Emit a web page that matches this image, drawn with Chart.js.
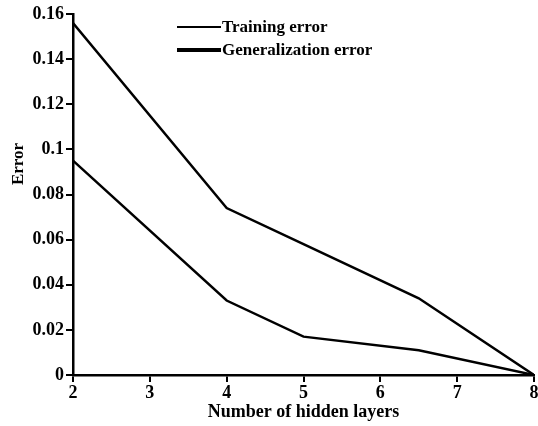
<!DOCTYPE html>
<html>
<head>
<meta charset="utf-8">
<script src="https://cdn.jsdelivr.net/npm/chart.js@4"></script>
<style>
  html, body { margin: 0; padding: 0; background: #fff; }
  #wrap { width: 538px; height: 426px; }
</style>
</head>
<body>
<div id="wrap"><canvas id="myChart" width="538" height="426"></canvas></div>
<script>
let layers = [2, 4, 5, 6.5, 8];
let trainingError = [0.095, 0.033, 0.017, 0.011, 0];
let generalizationError = [0.156, 0.074, 0.058, 0.034, 0];
let legendWidths = [2, 4];
let serif = '"Liberation Serif", "DejaVu Serif", serif';

let toPoints = (ys) => ys.map((y, i) => ({ x: layers[i], y: y }));

// legend and y title drawn inside the plot like the original figure
let inlineLegend = {
  id: 'inlineLegend',
  afterDraw(chart) {
    let c = chart.ctx;
    c.save();
    c.font = 'bold 17px ' + serif;
    c.textBaseline = 'middle';
    c.fillStyle = '#000';
    c.strokeStyle = '#000';
    chart.data.datasets.forEach((ds, i) => {
      let y = 27 + i * 23;
      c.lineWidth = legendWidths[i];
      c.beginPath();
      c.moveTo(177, y);
      c.lineTo(221, y);
      c.stroke();
      c.fillText(ds.label, 222, y + 1);
    });
    c.translate(19, 164);
    c.rotate(-Math.PI / 2);
    c.textAlign = 'center';
    c.fillText('Error', 0, 0);
    c.restore();
  }
};

let ctx = document.getElementById('myChart').getContext('2d');

let myChart = new Chart(ctx, {
  type: 'line',
  data: {
    datasets: [{
      label: 'Training error',
      data: toPoints(trainingError),
      borderColor: '#000',
      borderWidth: 2.5,
      pointRadius: 0,
      tension: 0
    }, {
      label: 'Generalization error',
      data: toPoints(generalizationError),
      borderColor: '#000',
      borderWidth: 2.5,
      pointRadius: 0,
      tension: 0
    }]
  },
  options: {
    responsive: false,
    animation: false,
    layout: {
      padding: { left: 0, right: 4, top: 14, bottom: 0 }
    },
    plugins: {
      legend: { display: false },
      tooltip: { enabled: false }
    },
    scales: {
      x: {
        type: 'linear',
        min: 2,
        max: 8,
        ticks: {
          stepSize: 1,
          color: '#000',
          padding: 1,
          font: { family: serif, size: 18, weight: 'bold' }
        },
        grid: {
          drawOnChartArea: false,
          drawTicks: true,
          tickLength: 7,
          color: '#000',
          lineWidth: 2
        },
        border: { color: '#000', width: 2.5 },
        title: {
          display: true,
          text: 'Number of hidden layers',
          color: '#000',
          padding: { top: 0, bottom: 3 },
          font: { family: serif, size: 18, weight: 'bold' }
        },
        afterFit: (scale) => {
          scale.height = 51;
          scale.paddingLeft = 0;
          scale.paddingRight = 0;
        }
      },
      y: {
        min: 0,
        max: 0.16,
        ticks: {
          stepSize: 0.02,
          color: '#000',
          padding: 2,
          font: { family: serif, size: 18, weight: 'bold' },
          callback: (value) => String(+value.toFixed(2))
        },
        grid: {
          drawOnChartArea: false,
          drawTicks: true,
          tickLength: 7,
          color: '#000',
          lineWidth: 2
        },
        border: { color: '#000', width: 2.5 },
        afterFit: (scale) => {
          scale.width = 73;
          scale.paddingTop = 0;
          scale.paddingBottom = 0;
        }
      }
    }
  },
  plugins: [inlineLegend]
});
</script>
</body>
</html>
